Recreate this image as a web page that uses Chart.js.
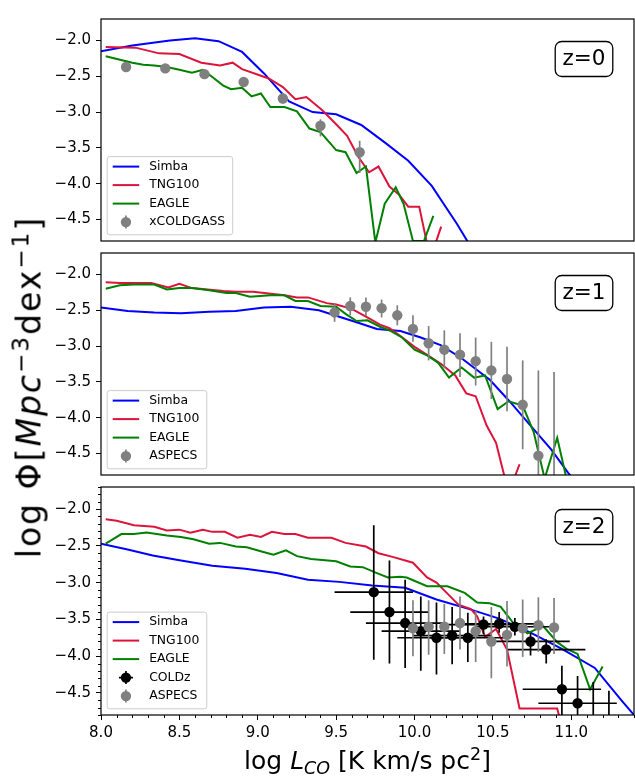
<!DOCTYPE html>
<html>
<head>
<meta charset="utf-8">
<script src="https://cdn.jsdelivr.net/npm/chart.js@4/dist/chart.umd.min.js"></script>
<style>
body { margin: 0; background: #fff; }
#wrap { position: relative; width: 635px; height: 776px; font-family: 'DejaVu Sans', sans-serif; color: #000; }
canvas { position: absolute; left: 0; }
#xlab { position: absolute; left: 101px; width: 533px; top: 746px; text-align: center; font-size: 25px; line-height: 29px; white-space: nowrap; }
#ylab { position: absolute; left: 31px; top: 387px; font-size: 33px; line-height: 36px; letter-spacing: 2px; white-space: nowrap; transform: translate(-50%, -50%) rotate(-90deg); }
.sub { font-size: 0.7em; position: relative; top: 0.3em; }
.sup { font-size: 0.7em; position: relative; top: -0.5em; }
</style>
</head>
<body>
<div id="wrap">
  <canvas id="c0" width="635" height="250" style="top:5px"></canvas>
  <canvas id="c1" width="635" height="250" style="top:239px"></canvas>
  <canvas id="c2" width="635" height="274" style="top:473px"></canvas>
  <div id="xlab">log <i>L</i><span class="sub"><i>CO</i></span> [K km/s pc<span class="sup">2</span>]</div>
  <div id="ylab">log Φ[<i>Mpc</i><span class="sup">−3</span>dex<span class="sup">−1</span>]</div>
</div>
<script>
// axis ranges / ticks
const xMin = 8.0, xMax = 11.4;
const yMin = -4.8, yMax = -1.7;
const tickStep = 0.5;
const redshiftLabels = ['z=0', 'z=1', 'z=2'];

// z = 0
const simbaX0 = [8.00, 8.20, 8.44, 8.60, 8.75, 8.90, 9.04, 9.20, 9.35, 9.50, 9.66, 9.82, 9.96, 10.11, 10.27, 10.42];
const simbaY0 = [-2.15, -2.07, -2.00, -1.97, -2.01, -2.16, -2.46, -2.85, -3.00, -3.03, -3.18, -3.44, -3.68, -4.03, -4.56, -5.10];
const tngX0 = [8.03, 8.22, 8.37, 8.50, 8.64, 8.76, 8.84, 8.90, 9.07, 9.16, 9.24, 9.31, 9.41, 9.50, 9.57, 9.64, 9.71, 9.77, 9.84, 9.90, 9.96, 10.03, 10.10, 10.17];
const tngY0 = [-2.09, -2.10, -2.18, -2.19, -2.31, -2.35, -2.31, -2.40, -2.53, -2.65, -2.82, -2.79, -2.97, -3.17, -3.33, -3.62, -3.84, -3.76, -4.04, -4.15, -4.32, -4.32, -5.05, -4.60];
const eagleX0 = [8.03, 8.20, 8.27, 8.34, 8.42, 8.50, 8.58, 8.65, 8.71, 8.78, 8.83, 8.90, 8.96, 9.02, 9.08, 9.17, 9.25, 9.33, 9.40, 9.50, 9.56, 9.63, 9.69, 9.75, 9.81, 9.88, 9.93, 9.99, 10.06, 10.12];
const eagleY0 = [-2.22, -2.31, -2.34, -2.35, -2.37, -2.41, -2.45, -2.41, -2.51, -2.63, -2.68, -2.66, -2.78, -2.74, -2.93, -2.93, -2.99, -3.23, -3.28, -3.53, -3.56, -3.85, -3.76, -4.82, -4.28, -4.05, -4.28, -4.80, -4.80, -4.45];
const xcgX0 = [8.16, 8.41, 8.66, 8.91, 9.16, 9.40, 9.65];
const xcgY0 = [-2.37, -2.39, -2.47, -2.58, -2.81, -3.19, -3.56];
const xcgHi0 = [-2.34, -2.36, -2.44, -2.55, -2.73, -3.10, -3.40];
const xcgLo0 = [-2.40, -2.42, -2.50, -2.61, -2.88, -3.34, -3.85];

// z = 1
const simbaX1 = [8.00, 8.17, 8.34, 8.51, 8.69, 8.86, 9.04, 9.21, 9.39, 9.52, 9.65, 9.76, 9.91, 10.04, 10.17, 10.30, 10.48, 10.61, 10.74, 10.87, 10.98, 11.13];
const simbaY1 = [-2.46, -2.51, -2.53, -2.54, -2.52, -2.51, -2.46, -2.45, -2.50, -2.59, -2.68, -2.76, -2.79, -2.88, -2.99, -3.17, -3.47, -3.78, -4.11, -4.44, -4.77, -5.15];
const tngX1 = [8.03, 8.12, 8.21, 8.32, 8.43, 8.50, 8.58, 8.78, 8.86, 8.97, 9.17, 9.25, 9.32, 9.44, 9.50, 9.60, 9.69, 9.78, 9.84, 9.91, 10.00, 10.10, 10.17, 10.26, 10.33, 10.39, 10.46, 10.52, 10.60, 10.67];
const tngY1 = [-2.11, -2.12, -2.12, -2.12, -2.18, -2.13, -2.19, -2.23, -2.24, -2.24, -2.29, -2.32, -2.32, -2.40, -2.42, -2.48, -2.59, -2.70, -2.75, -2.86, -3.01, -3.15, -3.25, -3.41, -3.66, -3.70, -4.11, -4.35, -5.05, -4.65];
const eagleX1 = [8.03, 8.12, 8.21, 8.34, 8.42, 8.50, 8.58, 8.69, 8.80, 8.86, 8.95, 9.08, 9.17, 9.24, 9.32, 9.40, 9.50, 9.56, 9.63, 9.70, 9.78, 9.85, 9.92, 10.00, 10.08, 10.15, 10.22, 10.30, 10.38, 10.45, 10.53, 10.60, 10.69, 10.76, 10.83, 10.91, 10.98];
const eagleY1 = [-2.20, -2.15, -2.14, -2.14, -2.21, -2.19, -2.19, -2.22, -2.26, -2.26, -2.31, -2.29, -2.29, -2.37, -2.37, -2.44, -2.45, -2.55, -2.65, -2.64, -2.73, -2.79, -2.88, -3.05, -3.13, -3.23, -3.44, -3.30, -3.44, -3.41, -3.88, -3.77, -3.83, -4.20, -4.85, -4.28, -4.95];
const aspX1 = [9.49, 9.59, 9.69, 9.79, 9.89, 9.99, 10.09, 10.19, 10.29, 10.39, 10.49, 10.59, 10.69, 10.79, 10.89];
const aspY1 = [-2.53, -2.44, -2.45, -2.47, -2.57, -2.76, -2.96, -3.05, -3.12, -3.21, -3.34, -3.46, -3.82, -4.53, -4.95];
const aspHi1 = [-2.40, -2.32, -2.32, -2.35, -2.43, -2.57, -2.72, -2.78, -2.82, -2.88, -2.94, -3.01, -3.20, -3.34, -3.36];
const aspLo1 = [-2.66, -2.57, -2.58, -2.60, -2.71, -2.94, -3.20, -3.31, -3.43, -3.55, -3.74, -3.91, -4.44, -5.20, -5.40];

// z = 2
const simbaX2 = [8.00, 8.17, 8.33, 8.51, 8.71, 8.92, 9.12, 9.32, 9.52, 9.73, 9.94, 10.14, 10.35, 10.54, 10.74, 10.94, 11.15, 11.32, 11.50];
const simbaY2 = [-2.47, -2.55, -2.63, -2.70, -2.77, -2.81, -2.87, -2.96, -2.99, -3.04, -3.07, -3.23, -3.36, -3.49, -3.68, -3.90, -4.16, -4.60, -5.05];
const tngX2 = [8.03, 8.10, 8.21, 8.34, 8.42, 8.50, 8.57, 8.65, 8.71, 8.79, 8.87, 8.95, 9.02, 9.09, 9.17, 9.24, 9.32, 9.47, 9.56, 9.69, 9.77, 9.86, 9.99, 10.08, 10.14, 10.21, 10.28, 10.36, 10.40, 10.45, 10.52, 10.59, 10.67, 10.91, 10.98];
const tngY2 = [-2.14, -2.16, -2.22, -2.24, -2.29, -2.28, -2.32, -2.28, -2.31, -2.31, -2.39, -2.35, -2.38, -2.31, -2.34, -2.34, -2.39, -2.39, -2.46, -2.51, -2.60, -2.65, -2.73, -2.93, -3.00, -3.15, -3.30, -3.36, -3.46, -3.74, -3.63, -3.91, -4.71, -4.71, -5.30];
const eagleX2 = [8.03, 8.13, 8.21, 8.29, 8.42, 8.51, 8.59, 8.69, 8.76, 8.86, 8.93, 9.03, 9.10, 9.18, 9.25, 9.34, 9.50, 9.59, 9.67, 9.76, 9.83, 9.91, 9.95, 10.08, 10.21, 10.32, 10.40, 10.48, 10.55, 10.63, 10.72, 10.82, 10.91, 10.97, 11.04, 11.12, 11.20];
const eagleY2 = [-2.47, -2.34, -2.34, -2.32, -2.36, -2.38, -2.41, -2.47, -2.46, -2.51, -2.52, -2.58, -2.62, -2.56, -2.64, -2.68, -2.71, -2.78, -2.79, -2.87, -2.93, -2.92, -2.93, -3.05, -3.05, -3.14, -3.27, -3.28, -3.33, -3.55, -3.69, -3.59, -3.81, -3.90, -3.97, -4.45, -4.14];
const coldzX2 = [9.74, 9.84, 9.94, 10.04, 10.14, 10.24, 10.34, 10.44, 10.54, 10.64, 10.74, 10.84, 10.94, 11.04, 11.14, 11.24];
const coldzY2 = [-3.13, -3.40, -3.55, -3.66, -3.75, -3.72, -3.75, -3.57, -3.56, -3.60, -3.80, -3.91, -4.45, -4.64, -5.00, -5.10];
const coldzHi2 = [-2.22, -2.70, -2.96, -3.19, -3.27, -3.33, -3.41, -3.46, -3.40, -3.48, -3.68, -3.77, -4.13, -4.27, -4.35, -4.47];
const coldzLo2 = [-4.05, -4.10, -4.16, -4.20, -4.25, -4.11, -4.08, -3.70, -3.68, -3.72, -3.99, -4.10, -5.00, -5.20, -5.50, -5.50];
const coldzXerr = 0.25;
const aspX2 = [9.99, 10.09, 10.19, 10.29, 10.39, 10.49, 10.59, 10.69, 10.79, 10.89];
const aspY2 = [-3.62, -3.60, -3.60, -3.55, -3.66, -3.80, -3.71, -3.62, -3.58, -3.61];
const aspHi2 = [-3.24, -3.24, -3.29, -3.19, -3.38, -3.33, -3.25, -3.23, -3.20, -3.21];
const aspLo2 = [-4.00, -3.98, -3.97, -3.91, -4.08, -4.30, -4.14, -4.01, -3.94, -3.97];

const SIMBA = '#0000ff', TNG = '#dc143c', EAGLE = '#008000', GREY = '#808080';

function pts(xs, ys) {
  return xs.map((x, i) => ({ x: x, y: ys[i] }));
}

function lineSet(label, xs, ys, color, order) {
  return {
    label: label, data: pts(xs, ys), showLine: true, borderColor: color, backgroundColor: color,
    borderWidth: 2, pointRadius: 0, tension: 0, fill: false, clip: 0, order: order
  };
}

function obsSet(label, xs, ys, lo, hi, xerr, color, order) {
  return {
    label: label, data: pts(xs, ys), showLine: false, pointRadius: 5.2, pointBorderWidth: 0,
    pointBackgroundColor: color, backgroundColor: color, borderColor: color, clip: 0, order: order,
    errLo: lo, errHi: hi, xErr: xerr, errColor: color
  };
}

function fmt(v) {
  return (v < 0 ? '\u2212' : '') + Math.abs(v).toFixed(1);
}

function roundRect(ctx, x, y, w, h, r) {
  ctx.beginPath();
  ctx.moveTo(x + r, y);
  ctx.arcTo(x + w, y, x + w, y + h, r);
  ctx.arcTo(x + w, y + h, x, y + h, r);
  ctx.arcTo(x, y + h, x, y, r);
  ctx.arcTo(x, y, x + w, y, r);
  ctx.closePath();
}

// error bars drawn just before the markers of the same dataset
const errorBars = {
  id: 'errorBars',
  beforeDatasetDraw(chart, args) {
    const ds = chart.data.datasets[args.index];
    if (!ds.errLo) return;
    const ctx = chart.ctx, a = chart.chartArea, xs = chart.scales.x, ys = chart.scales.y;
    ctx.save();
    ctx.beginPath();
    ctx.rect(a.left, a.top, a.right - a.left, a.bottom - a.top);
    ctx.clip();
    ctx.strokeStyle = ds.errColor;
    ctx.lineWidth = 1.7;
    ds.data.forEach((p, i) => {
      const px = xs.getPixelForValue(p.x), py = ys.getPixelForValue(p.y);
      ctx.beginPath();
      ctx.moveTo(px, ys.getPixelForValue(ds.errLo[i]));
      ctx.lineTo(px, ys.getPixelForValue(ds.errHi[i]));
      if (ds.xErr) {
        ctx.moveTo(xs.getPixelForValue(p.x - ds.xErr), py);
        ctx.lineTo(xs.getPixelForValue(p.x + ds.xErr), py);
      }
      ctx.stroke();
    });
    ctx.restore();
  }
};

// frame, legend box and redshift label
const decorations = {
  id: 'decorations',
  afterDatasetsDraw(chart, args, opts) {
    const ctx = chart.ctx, a = chart.chartArea;
    ctx.save();
    ctx.strokeStyle = '#000';
    ctx.lineWidth = 1.2;
    ctx.strokeRect(a.left, a.top, a.right - a.left, a.bottom - a.top);

    // legend (lower left)
    const items = chart.data.datasets;
    const fs = 12.4;
    ctx.font = fs + 'px "DejaVu Sans"';
    const tw = Math.max(...items.map(d => ctx.measureText(d.label).width));
    const padL = 5.5, hl = 26.5, htp = 10, padR = 7.5, pitch = 18.5;
    const w = padL + hl + htp + tw + padR;
    const h = 10 + (items.length - 1) * pitch + 12.7;
    const x0 = a.left + 6.2, y0 = a.bottom - 6.2 - h;
    roundRect(ctx, x0, y0, w, h, 2.5);
    ctx.fillStyle = 'rgba(255,255,255,0.8)';
    ctx.fill();
    ctx.strokeStyle = '#cccccc';
    ctx.lineWidth = 1;
    ctx.stroke();
    items.forEach((d, i) => {
      const cy = y0 + 10 + i * pitch;
      const hx = x0 + padL;
      if (d.showLine) {
        ctx.strokeStyle = d.borderColor;
        ctx.lineWidth = 2;
        ctx.beginPath();
        ctx.moveTo(hx, cy);
        ctx.lineTo(hx + hl, cy);
        ctx.stroke();
      } else {
        const mx = hx + hl / 2;
        ctx.strokeStyle = d.errColor;
        ctx.lineWidth = 1.7;
        ctx.beginPath();
        ctx.moveTo(mx, cy - 6.5);
        ctx.lineTo(mx, cy + 6.5);
        if (d.xErr) {
          ctx.moveTo(mx - 7, cy);
          ctx.lineTo(mx + 7, cy);
        }
        ctx.stroke();
        ctx.fillStyle = d.pointBackgroundColor;
        ctx.beginPath();
        ctx.arc(mx, cy, 5.2, 0, Math.PI * 2);
        ctx.fill();
      }
      ctx.fillStyle = '#000';
      ctx.textAlign = 'left';
      ctx.textBaseline = 'middle';
      ctx.fillText(d.label, hx + hl + htp, cy);
    });

    // redshift box (upper right)
    const zs = 21.5;
    ctx.font = zs + 'px "DejaVu Sans"';
    const zw = ctx.measureText(opts.text).width + 14.6, zh = 35;
    const cx = a.right - 50, cy = a.top + 40;
    roundRect(ctx, cx - zw / 2, cy - zh / 2, zw, zh, 6.5);
    ctx.fillStyle = '#fff';
    ctx.fill();
    ctx.strokeStyle = '#000';
    ctx.lineWidth = 1.3;
    ctx.stroke();
    ctx.fillStyle = '#000';
    ctx.textAlign = 'center';
    ctx.textBaseline = 'middle';
    ctx.fillText(opts.text, cx, cy + 0.5);
    ctx.restore();
  }
};

// minor ticks on the bottom panel
const minorTicks = {
  id: 'minorTicks',
  afterDraw(chart, args, opts) {
    if (!opts.on) return;
    const ctx = chart.ctx, a = chart.chartArea, xs = chart.scales.x, ys = chart.scales.y;
    ctx.save();
    ctx.strokeStyle = '#000';
    ctx.lineWidth = 1;
    ctx.beginPath();
    for (let k = Math.ceil(yMin * 10); k <= Math.floor(yMax * 10); k++) {
      if (k % 5 === 0) continue;
      const py = Math.round(ys.getPixelForValue(k / 10)) + 0.5;
      ctx.moveTo(a.left, py);
      ctx.lineTo(a.left - 3, py);
    }
    for (let k = Math.ceil(xMin * 10); k <= Math.floor(xMax * 10); k++) {
      if (k % 5 === 0) continue;
      const px = Math.round(xs.getPixelForValue(k / 10)) + 0.5;
      ctx.moveTo(px, a.bottom);
      ctx.lineTo(px, a.bottom + 3);
    }
    ctx.stroke();
    ctx.restore();
  }
};

const tickFont = { family: 'DejaVu Sans', size: 15 };

function makeChart(id, idx, datasets, showX) {
  return new Chart(document.getElementById(id), {
    type: 'scatter',
    data: { datasets: datasets },
    options: {
      responsive: false,
      animation: false,
      devicePixelRatio: 1,
      events: [],
      layout: { autoPadding: false, padding: { top: 8, bottom: showX ? 0 : 8, left: 0, right: 1 } },
      plugins: {
        legend: { display: false },
        tooltip: { enabled: false },
        decorations: { text: redshiftLabels[idx] },
        minorTicks: { on: showX }
      },
      scales: {
        x: {
          type: 'linear', min: xMin, max: xMax, display: showX,
          ticks: { stepSize: tickStep, includeBounds: false, autoSkip: false, maxRotation: 0, padding: 4, color: '#000', font: tickFont, callback: fmt },
          grid: { drawOnChartArea: false, drawTicks: true, tickLength: 5, tickColor: '#000', tickWidth: 1 },
          border: { display: false },
          afterFit(s) { s.height = showX ? 32 : 0; }
        },
        y: {
          type: 'linear', min: yMin, max: yMax,
          ticks: { stepSize: tickStep, includeBounds: false, autoSkip: false, padding: 5, color: '#000', font: tickFont, callback: fmt },
          grid: { drawOnChartArea: false, drawTicks: true, tickLength: 5, tickColor: '#000', tickWidth: 1 },
          border: { display: false },
          afterFit(s) { s.width = 101; }
        }
      }
    },
    plugins: [errorBars, decorations, minorTicks]
  });
}

makeChart('c0', 0, [
  lineSet('Simba', simbaX0, simbaY0, SIMBA, 30),
  lineSet('TNG100', tngX0, tngY0, TNG, 20),
  lineSet('EAGLE', eagleX0, eagleY0, EAGLE, 10),
  obsSet('xCOLDGASS', xcgX0, xcgY0, xcgLo0, xcgHi0, 0, GREY, 1)
], false);

makeChart('c1', 1, [
  lineSet('Simba', simbaX1, simbaY1, SIMBA, 30),
  lineSet('TNG100', tngX1, tngY1, TNG, 20),
  lineSet('EAGLE', eagleX1, eagleY1, EAGLE, 10),
  obsSet('ASPECS', aspX1, aspY1, aspLo1, aspHi1, 0, GREY, 1)
], false);

makeChart('c2', 2, [
  lineSet('Simba', simbaX2, simbaY2, SIMBA, 30),
  lineSet('TNG100', tngX2, tngY2, TNG, 20),
  lineSet('EAGLE', eagleX2, eagleY2, EAGLE, 10),
  obsSet('COLDz', coldzX2, coldzY2, coldzLo2, coldzHi2, coldzXerr, '#000000', 5),
  obsSet('ASPECS', aspX2, aspY2, aspLo2, aspHi2, 0, GREY, 1)
], true);
</script>
</body>
</html>
